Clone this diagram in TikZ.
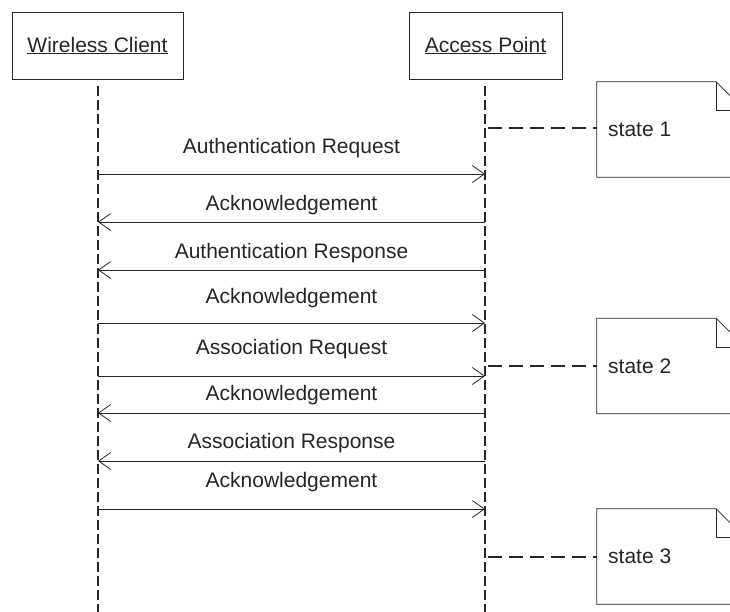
\documentclass[tikz,border=0pt]{standalone}
\usepackage{fontspec}
\setmainfont{Liberation Sans}
\usetikzlibrary{arrows.meta}
\definecolor{ink}{gray}{0.15}
\tikzset{
  lbl/.style={font=\fontsize{21}{25}\selectfont, text=ink, inner sep=0pt},
  actor/.style={draw=ink, line width=0.9pt, fill=white, lbl},
  lifeline/.style={draw=ink, line width=1.4pt, dash pattern=on 10pt off 4pt},
  msg/.style={draw=ink, line width=0.8pt, -{Straight Barb[length=12pt,width=17pt,line width=0.8pt]}},
  plain/.style={draw=ink, line width=0.8pt},
  statelink/.style={draw=ink, line width=2.8pt, dash pattern=on 14pt off 7pt},
  notebox/.style={minimum width=148pt, minimum height=95pt, inner sep=0pt},
  noteline/.style={draw=ink, line width=0.8pt, fill=white},
}
\begin{document}
\begin{tikzpicture}[x=1pt,y=-1pt]
\useasboundingbox (0,0) rectangle (730,611);
\fill[white] (0,0) rectangle (730,611);
\clip (0,0) rectangle (730,611);

% actors
\node[actor, minimum width=171pt, minimum height=67pt] (client) at (97.5,45.5) {\underline{Wireless Client}};
\node[actor, minimum width=153pt, minimum height=67pt] (ap) at (485.5,45.5) {\underline{Access Point}};

% lifelines
\coordinate (cl0) at (98,86);
\coordinate (cl1) at (98,613);
\coordinate (ap0) at (485,86);
\coordinate (ap1) at (485,613);
\draw[lifeline] (cl0) -- (cl1);
\draw[lifeline] (ap0) -- (ap1);

% message end points
\foreach \n/\y in {1/174,2/222,3/270,4/323,5/376,6/413,7/461,8/509}{
  \coordinate (c\n) at (98,\y);
  \coordinate (a\n) at (485,\y);
}

% messages
\draw[msg] (c1) -- (a1);
\draw[msg] (a2) -- (c2);
\draw[msg] (a3) -- (c3);
\draw[msg] (c4) -- (a4);
\draw[msg] (c5) -- (a5);
\draw[msg] (a6) -- (c6);
\draw[msg] (a7) -- (c7);
\draw[msg] (c8) -- (a8);

% message labels
\node[lbl, anchor=base] (l1) at (291.5,153) {Authentication Request};
\node[lbl, anchor=base] (l2) at (291.5,210) {Acknowledgement};
\node[lbl, anchor=base] (l3) at (291.5,258.5) {Authentication Response};
\node[lbl, anchor=base] (l4) at (291.5,303) {Acknowledgement};
\node[lbl, anchor=base] (l5) at (291.5,354) {Association Request};
\node[lbl, anchor=base] (l6) at (291.5,400) {Acknowledgement};
\node[lbl, anchor=base] (l7) at (291.5,448) {Association Response};
\node[lbl, anchor=base] (l8) at (291.5,487) {Acknowledgement};

% notes
\node[notebox] (n1) at (671,129.5) {};
\node[notebox] (n2) at (671,366) {};
\node[notebox] (n3) at (671,556.5) {};
\foreach \n in {n1,n2,n3}{
  \draw[noteline] (\n.north west) -- ([xshift=-29pt]\n.north east) -- ([yshift=-29pt]\n.north east)
     -- (\n.south east) -- (\n.south west) -- cycle;
  \draw[noteline, fill=none] ([xshift=-29pt]\n.north east) |- ([yshift=-29pt]\n.north east);
}
\node[lbl, anchor=base west] (t1) at (608,136) {state 1};
\node[lbl, anchor=base west] (t2) at (608,373) {state 2};
\node[lbl, anchor=base west] (t3) at (608,563) {state 3};

% state links
\coordinate (s1) at (488,128);
\coordinate (s2) at (488,366);
\coordinate (s3) at (488,557);
\draw[statelink] (s1) -- (s1 -| n1.west);
\draw[statelink] (s2) -- (n2.west);
\draw[statelink] (s3) -- (s3 -| n3.west);
\end{tikzpicture}
\end{document}
